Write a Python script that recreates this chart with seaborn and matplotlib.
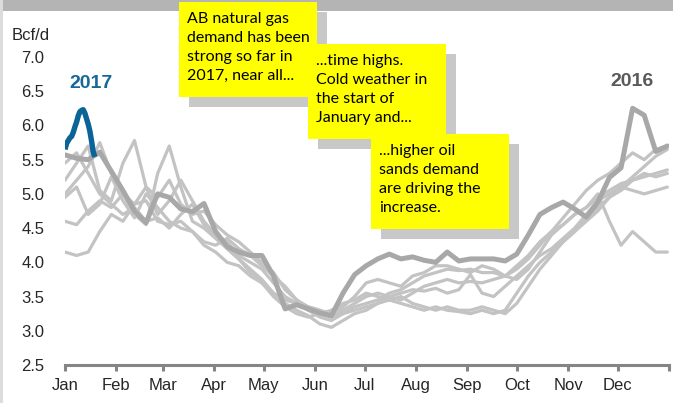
import matplotlib
matplotlib.use("Agg")
import matplotlib.pyplot as plt
import pandas as pd
import seaborn as sns
from matplotlib.patches import Rectangle

# ---- data -----------------------------------------------------------------
months = ["Jan", "Feb", "Mar", "Apr", "May", "Jun",
          "Jul", "Aug", "Sep", "Oct", "Nov", "Dec"]
month_start = [0, 31, 59, 90, 120, 151, 181, 212, 243, 273, 304, 334, 365]

# day of year for the weekly readings
week_days = list(range(0, 365, 7))

# earlier years (Bcf/d, weekly)
y2010 = [5.20, 5.45, 5.70, 5.05, 4.90, 5.45, 5.78, 5.10, 4.95, 5.20,
         4.85, 4.70, 4.75, 4.55, 4.40, 4.30, 4.15, 4.00, 3.85, 3.60,
         3.45, 3.35, 3.30, 3.20, 3.30, 3.40, 3.50, 3.55, 3.50, 3.55,
         3.60, 3.58, 3.62, 3.55, 3.60, 3.82, 3.55, 3.50, 3.65, 3.80,
         3.95, 4.10, 4.20, 4.35, 4.50, 4.70, 4.90, 5.00, 5.10, 5.25,
         5.40, 5.55, 5.65]
y2011 = [4.15, 4.10, 4.15, 4.45, 4.70, 4.60, 4.85, 5.10, 4.70, 4.90,
         5.20, 4.90, 4.60, 4.40, 4.30, 4.10, 4.00, 3.90, 3.70, 3.50,
         3.40, 3.30, 3.20, 3.15, 3.25, 3.30, 3.35, 3.40, 3.50, 3.45,
         3.55, 3.65, 3.70, 3.75, 3.70, 3.72, 3.70, 3.75, 3.80, 3.95,
         4.10, 4.30, 4.45, 4.55, 4.70, 4.80, 4.95, 5.05, 5.15, 5.20,
         5.25, 5.30, 5.35]
y2012 = [4.60, 4.55, 4.75, 4.90, 4.80, 5.00, 4.70, 4.55, 5.30, 5.70,
         5.10, 4.60, 4.50, 4.35, 4.20, 4.05, 3.90, 3.75, 3.55, 3.40,
         3.30, 3.22, 3.10, 3.05, 3.15, 3.25, 3.30, 3.40, 3.45, 3.40,
         3.35, 3.30, 3.35, 3.30, 3.28, 3.25, 3.30, 3.25, 3.30, 3.55,
         3.80, 4.00, 4.15, 4.30, 4.45, 4.60, 4.75, 4.95, 5.10, 5.05,
         5.00, 5.05, 5.10]
y2013 = [5.00, 5.20, 5.40, 5.75, 5.30, 5.00, 4.85, 4.90, 4.60, 4.55,
         4.60, 4.45, 4.30, 4.25, 4.35, 4.20, 4.10, 3.95, 3.80, 3.65,
         3.45, 3.30, 3.25, 3.20, 3.25, 3.35, 3.40, 3.45, 3.55, 3.60,
         3.70, 3.80, 3.85, 3.90, 3.88, 3.90, 3.85, 3.85, 3.80, 3.75,
         3.90, 4.15, 4.40, 4.55, 4.70, 4.80, 5.00, 4.60, 4.25, 4.45,
         4.30, 4.15, 4.15]
y2014 = [5.45, 5.60, 5.30, 5.00, 4.85, 4.70, 4.80, 4.60, 4.65, 4.50,
         4.70, 4.85, 4.55, 4.40, 4.20, 4.05, 3.85, 3.70, 3.55, 3.45,
         3.40, 3.35, 3.30, 3.25, 3.35, 3.50, 3.70, 3.75, 3.70, 3.65,
         3.80, 3.85, 3.95, 3.95, 3.90, 3.85, 3.95, 3.90, 3.80, 3.90,
         4.05, 4.25, 4.45, 4.65, 4.85, 5.05, 5.20, 5.30, 5.45, 5.60,
         5.50, 5.65, 5.70]
y2015 = [4.95, 5.10, 4.70, 4.85, 5.25, 4.90, 4.65, 5.00, 4.80, 4.60,
         4.50, 4.45, 4.25, 4.15, 4.00, 3.95, 3.80, 3.70, 3.50, 3.35,
         3.25, 3.20, 3.25, 3.30, 3.40, 3.45, 3.55, 3.50, 3.45, 3.50,
         3.40, 3.35, 3.30, 3.35, 3.30, 3.30, 3.35, 3.30, 3.25, 3.40,
         3.65, 3.90, 4.10, 4.30, 4.45, 4.65, 4.80, 4.95, 5.05, 5.20,
         5.30, 5.25, 5.30]

y2016 = [5.57, 5.52, 5.50, 5.61, 5.33, 5.05, 4.75, 4.58, 5.00, 4.95,
         4.78, 4.74, 4.86, 4.45, 4.23, 4.15, 4.10, 4.10, 3.80, 3.32,
         3.38, 3.32, 3.26, 3.22, 3.55, 3.82, 3.95, 4.05, 4.12, 4.05,
         4.08, 4.03, 4.00, 4.15, 4.02, 4.05, 4.05, 4.05, 4.02, 4.12,
         4.40, 4.70, 4.80, 4.88, 4.78, 4.66, 4.88, 5.24, 5.38, 6.25,
         6.15, 5.62, 5.70]

# 2017 so far, daily
days_2017 = list(range(19))
y2017 = [5.65, 5.74, 5.78, 5.82, 5.84, 5.90, 5.98, 6.05, 6.14, 6.20,
         6.22, 6.23, 6.18, 6.10, 6.02, 5.92, 5.78, 5.62, 5.54]

history = {"2010": y2010, "2011": y2011, "2012": y2012,
           "2013": y2013, "2014": y2014, "2015": y2015}

callouts = [
    ["AB natural gas", "demand has been", "strong so far in", "2017, near all..."],
    ["...time highs.", "Cold weather in", "the start of", "January and..."],
    ["...higher oil", "sands demand", "are driving the", "increase."],
]

# ---- figure ---------------------------------------------------------------
sns.set_style("white")
plt.rcParams["font.family"] = ["Liberation Sans", "DejaVu Sans"]

W, H = 673, 403
fig = plt.figure(figsize=(W / 100, H / 100), dpi=100)


def fx(x):
    return x / W


def fy(y):
    return 1 - y / H


ax = fig.add_axes([fx(65), fy(365), fx(669) - fx(65), fy(57) - fy(365)])

hist_df = pd.DataFrame(
    [(d, v, yr) for yr, vals in history.items() for d, v in zip(week_days, vals)],
    columns=["day", "value", "year"],
)
sns.lineplot(data=hist_df, x="day", y="value", units="year", estimator=None,
             color="#c3c3c3", lw=2.3, ax=ax, zorder=2)
sns.lineplot(x=week_days, y=y2016, color="#a8a8a8", lw=3.6, ax=ax, zorder=3)
sns.lineplot(x=days_2017, y=y2017, color="#0b6497", lw=3.9, ax=ax, zorder=4,
             solid_capstyle="butt")

ax.set_xlim(0, 365)
ax.set_ylim(2.5, 7.0)
ax.set_yticks([2.5, 3.0, 3.5, 4.0, 4.5, 5.0, 5.5, 6.0, 6.5, 7.0])
ax.set_yticklabels([f"{v:.1f}" for v in ax.get_yticks()])
ax.set_xticks(month_start)
ax.set_xticklabels(months + [""])
ax.set_xlabel("")
ax.set_ylabel("")

for s in ["top", "right", "left"]:
    ax.spines[s].set_visible(False)
ax.spines["bottom"].set_color("#858585")
ax.spines["bottom"].set_linewidth(2.2)
ax.tick_params(axis="x", direction="out", length=4, width=2.2, color="#858585",
               labelsize=12, pad=5.5, bottom=True)
ax.tick_params(axis="y", length=0, labelsize=12, pad=15)

# unit label and series labels
fig.text(fx(12), fy(35), "Bcf/d", fontsize=12, ha="left", va="center")
fig.text(fx(91), fy(84), "2017", fontsize=14, fontweight="bold",
         color="#16679a", ha="center", va="center")
fig.text(fx(632), fy(82), "2016", fontsize=14, fontweight="bold",
         color="#5a5a5a", ha="center", va="center")

# frame decorations
fig.add_artist(Rectangle((0, fy(11)), 1, fy(0) - fy(11), transform=fig.transFigure,
                         facecolor="#b4b4b4", edgecolor="none", zorder=5))
fig.add_artist(Rectangle((0, 0), fx(2.5), 1, transform=fig.transFigure,
                         facecolor="#dcdcdc", edgecolor="none", zorder=5))

# callout boxes with drop shadows
boxes = [(179, 2), (308, 44), (371, 134)]
bw, bh, off = 138, 95, 10
for (bx, by), lines in zip(boxes, callouts):
    fig.add_artist(Rectangle((fx(bx + off), fy(by + off + bh)), fx(bw), fy(0) - fy(bh),
                             transform=fig.transFigure, facecolor="#c8c8c8",
                             edgecolor="none", zorder=6))
    fig.add_artist(Rectangle((fx(bx), fy(by + bh)), fx(bw), fy(0) - fy(bh),
                             transform=fig.transFigure, facecolor="#ffff00",
                             edgecolor="none", zorder=7))
    for i, line in enumerate(lines):
        fig.text(fx(bx + 8), fy(by + 17 + 19 * i), line, fontsize=11.5,
                 family=["Lato", "DejaVu Sans"], ha="left", va="center",
                 color="black", zorder=8)

fig.savefig("out.png", dpi=100)
